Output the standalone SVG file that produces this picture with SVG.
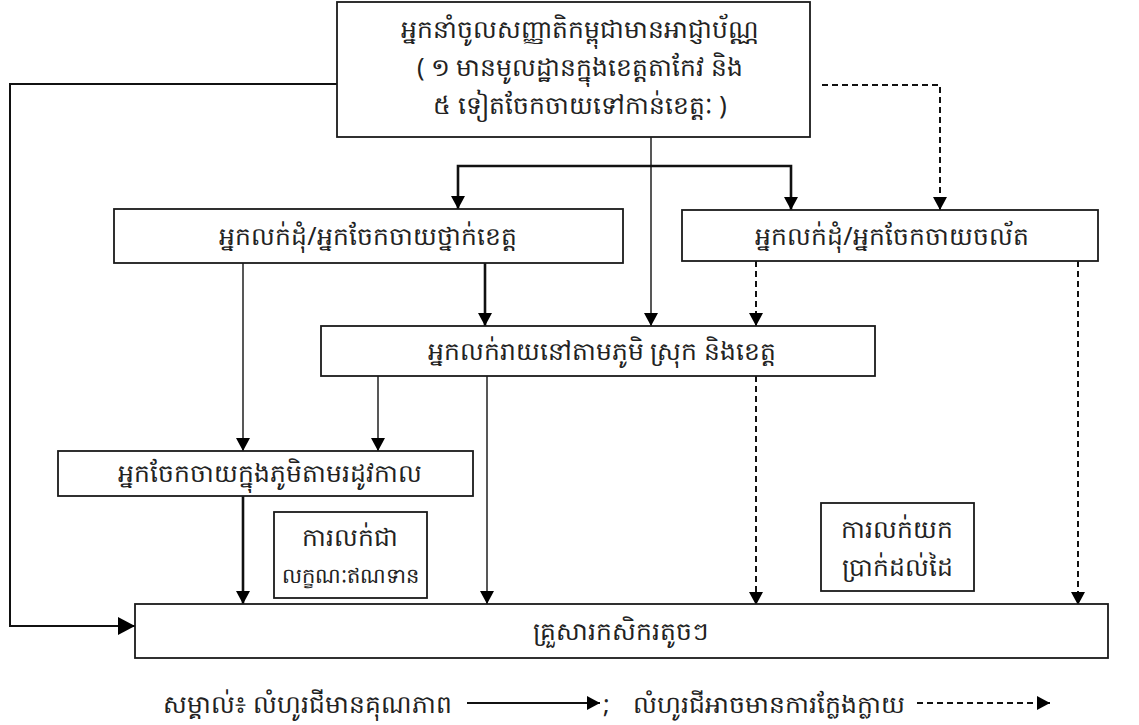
<svg xmlns="http://www.w3.org/2000/svg" width="1139" height="725" viewBox="0 0 1139 725">
<style>
.box{fill:#fff;stroke:#1a1a1a;stroke-width:1.8}
.t{font-family:"Noto Sans","DejaVu Sans",sans-serif;font-size:25px;fill:#222;text-anchor:middle}
.thin{fill:none;stroke:#111;stroke-width:1.4}
.solid{fill:none;stroke:#111;stroke-width:2}
.thick{fill:none;stroke:#111;stroke-width:2.6}
.dash{fill:none;stroke:#111;stroke-width:2;stroke-dasharray:6 4}
</style>
<defs>
<marker id="ah" markerUnits="userSpaceOnUse" markerWidth="14" markerHeight="14" refX="13" refY="7" orient="auto">
<path d="M0,0 L13,7 L0,14 z" fill="#000"/>
</marker>
<marker id="ahL" markerUnits="userSpaceOnUse" markerWidth="18" markerHeight="18" refX="17" refY="9" orient="auto">
<path d="M0,0 L17,9 L0,18 z" fill="#000"/>
</marker>
</defs>
<rect width="1139" height="725" fill="#fff"/>
<g id="connectors">
<path class="solid" d="M337,84 H10 V626 H135" marker-end="url(#ahL)"/>
<path class="dash" d="M822,85 H940 V210" marker-end="url(#ah)"/>
<path class="thin" d="M651,137 V326" marker-end="url(#ah)"/>
<path class="thick" d="M651,166 H458 V209" marker-end="url(#ah)"/>
<path class="thick" d="M651,166 H791 V210" marker-end="url(#ah)"/>
<path class="thin" d="M243,263 V451" marker-end="url(#ah)"/>
<path class="thick" d="M485,263 V326" marker-end="url(#ah)"/>
<path class="dash" d="M756,261 V326" marker-end="url(#ah)"/>
<path class="dash" d="M1078,261 V605" marker-end="url(#ah)"/>
<path class="thin" d="M378,376 V451" marker-end="url(#ah)"/>
<path class="thin" d="M487,376 V604" marker-end="url(#ah)"/>
<path class="dash" d="M756,376 V605" marker-end="url(#ah)"/>
<path class="thick" d="M243,496 V604" marker-end="url(#ah)"/>
</g>
<g id="importer">
<rect class="box" x="337" y="2" width="473" height="135"/>
<text class="t" x="580" y="38">អ្នកនាំចូលសញ្ញាតិកម្ពុជាមានអាជ្ញាប័ណ្ណ</text>
<text class="t" x="580" y="76">( ១ មានមូលដ្ឋានក្នុងខេត្តតាកែវ និង</text>
<text class="t" x="580" y="114">៥ ទៀតចែកចាយទៅកាន់ខេត្តៈ )</text>
</g>
<g id="provincial">
<rect class="box" x="114" y="209" width="509" height="54"/>
<text class="t" x="368" y="245">អ្នកលក់ដុំ/អ្នកចែកចាយថ្នាក់ខេត្ត</text>
</g>
<g id="mobile">
<rect class="box" x="682" y="210" width="416" height="51"/>
<text class="t" x="892" y="245">អ្នកលក់ដុំ/អ្នកចែកចាយចល័ត</text>
</g>
<g id="retail">
<rect class="box" x="321" y="326" width="554" height="50"/>
<text class="t" x="602" y="360">អ្នកលក់រាយនៅតាមភូមិ ស្រុក និងខេត្ត</text>
</g>
<g id="village">
<rect class="box" x="58" y="451" width="415" height="45"/>
<text class="t" x="270" y="482">អ្នកចែកចាយក្នុងភូមិតាមរដូវកាល</text>
</g>
<g id="credit">
<rect class="box" x="274" y="512" width="153" height="86"/>
<text class="t" x="350" y="546">ការលក់ជា</text>
<text class="t" x="350" y="583" style="font-size:21px">លក្ខណៈឥណទាន</text>
</g>
<g id="cash">
<rect class="box" x="821" y="503" width="153" height="88"/>
<text class="t" x="897" y="538">ការលក់យក</text>
<text class="t" x="897" y="576">ប្រាក់ដល់ដៃ</text>
</g>
<g id="farmers">
<rect class="box" x="135" y="604" width="973" height="54"/>
<text class="t" x="620" y="640">គ្រួសារកសិករតូចៗ</text>
</g>
<g id="legend">
<text class="t" x="452" y="713" style="text-anchor:end">សម្គាល់៖ លំហូរជីមានគុណភាព</text>
<path class="solid" d="M467,703 H600" marker-end="url(#ah)"/>
<text class="t" x="603" y="713" style="text-anchor:start">;</text>
<text class="t" x="633" y="713" style="text-anchor:start;font-size:24px" textLength="272" lengthAdjust="spacingAndGlyphs">លំហូរជីអាចមានការក្លែងក្លាយ</text>
<path class="dash" d="M917,703 H1050" marker-end="url(#ah)"/>
</g>
</svg>
